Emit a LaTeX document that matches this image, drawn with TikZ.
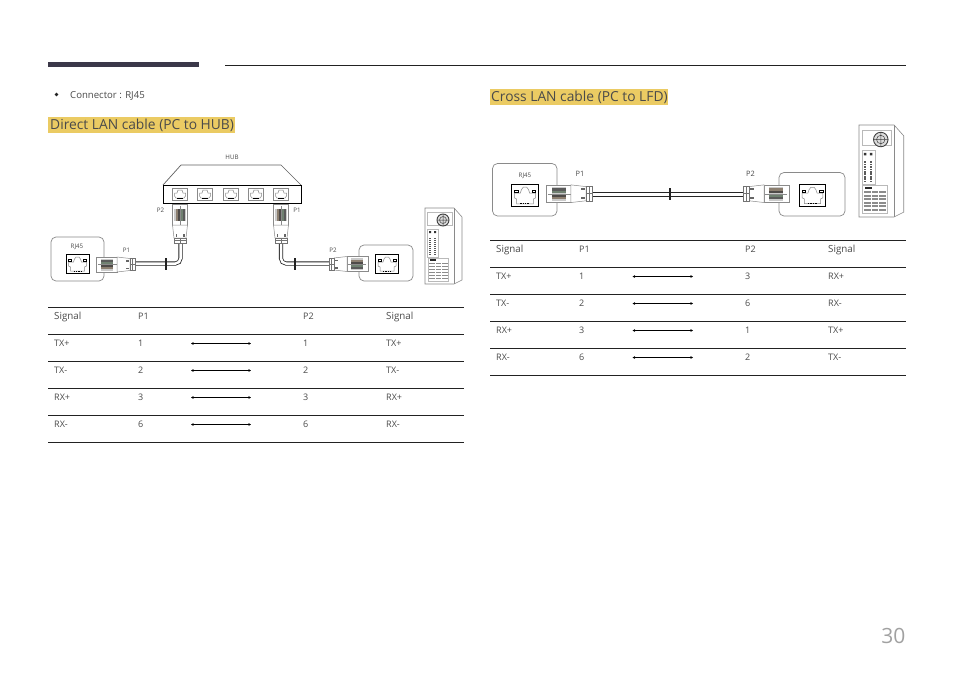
\documentclass[tikz,border=0pt]{standalone}
\usepackage{fontspec}
\setmainfont{Open Sans}
\usetikzlibrary{arrows.meta}
\definecolor{txt}{HTML}{4A4A4A}
\definecolor{hl}{HTML}{EBCB63}
\definecolor{barc}{HTML}{3B3849}
\definecolor{rulec}{HTML}{222222}
\definecolor{gy}{HTML}{8A8A8A}
\definecolor{stripea}{HTML}{5A5A5A}
\definecolor{stripeb}{HTML}{6F8070}
\definecolor{stripec}{HTML}{4E4A48}
\definecolor{striped}{HTML}{8C7F70}
\tikzset{
  celltext/.style={anchor=base west,inner sep=0pt,font=\fontsize{9}{11}\selectfont,text=txt},
  smalltext/.style={inner sep=0pt,font=\fontsize{6.2}{8}\selectfont,text=txt},
  heading/.style={anchor=base west,inner sep=0pt,font=\fontsize{13.8}{16}\selectfont,text=txt},
  hlbox/.style={fill=hl,draw=none},
  rowrule/.style={draw=rulec,line width=.9pt},
  signal/.style={draw=black,line width=.6pt,{Stealth[length=2.6pt,width=2.6pt]}-{Stealth[length=2.6pt,width=2.6pt]}},
  portbox/.style={draw=gy,line width=.7pt,rounded corners=5pt,fill=white},
  cable/.style={draw=black!85,line width=4.1pt,rounded corners=5pt},
  cablein/.style={draw=white,line width=2.5pt,rounded corners=5pt},
  tickmark/.style={draw=rulec,line width=1.5pt},
  pics/jack/.style={code={
    \draw[black,line width=1pt,fill=white] (-11.5,-9.5) rectangle (11.5,9.5);
    \draw[gy,line width=.5pt] (-9,-2) -- (-4,-2) -- (-3,-5) -- (-1.5,-7) -- (1.5,-7) -- (3,-5) -- (4,-2) -- (9,-2) -- (9,2) -- (7,3) -- (7,7) -- (-7,7) -- (-7,3) -- (-9,2) -- cycle;
    \draw[black,line width=.5pt,fill=white] (-9,-4.5) rectangle (-6,-2.5);
    \draw[black,line width=.5pt,fill=white] (6,-4.5) rectangle (9,-2.5);
    \draw[black,line width=1pt,dash pattern=on 1.4pt off 1pt] (-4,7) -- (4,7);
  }},
  pics/hubjack/.style={code={
    \draw[gy,line width=.6pt] (-7.5,-6) rectangle (7.5,6);
    \draw[gy,line width=.5pt] (-5.5,-1) -- (-3,-1) -- (-2,-4) -- (2,-4) -- (3,-1) -- (5.5,-1) -- (5.5,2) -- (4,4) -- (-4,4) -- (-5.5,2) -- cycle;
    \draw[black,line width=1pt] (-3,4.2) -- (3,4.2);
  }},
  pics/plug/.style={code={
    \draw[gy,line width=.5pt,fill=white] (-39,-7.5) rectangle (-18,7.5);
    \fill[white!55!gy] (-34,-6) rectangle (-22,6);
    \fill[stripea] (-34,-4.5) rectangle (-22,-2.5);
    \fill[stripeb] (-34,-2.5) rectangle (-22,-.5);
    \fill[stripec] (-34,.5) rectangle (-22,2.5);
    \fill[striped] (-34,2.5) rectangle (-22,4.5);
    \draw[gy,line width=.4pt] (-37,0) -- (-14,0);
    \draw[gy,line width=.5pt,fill=white] (-18,-7.5) -- (-5,-6) -- (-5,6) -- (-18,7.5) -- cycle;
    \fill[black!60] (-9,-4.5) rectangle (-6,-3);
    \fill[black!60] (-9,3) rectangle (-6,4.5);
    \draw[black!55,line width=.5pt,fill=white] (-5,-6) rectangle (0,6);
    \draw[black!55,line width=.5pt] (-2.5,-6) -- (-2.5,6) (-5,0) -- (0,0);
  }},
  pics/tower/.style={code={
    \draw[gy,line width=.6pt,fill=white] (0,0) -- (29,0) -- (37,9) -- (37,72) -- (29,76) -- (0,76) -- cycle;
    \draw[gy,line width=.5pt] (29,0) -- (29,76);
    \draw[gy!60,line width=.4pt] (2.5,4) rectangle (27,17);
    \draw[black!75,line width=.9pt,fill=gy!30] (18,12) circle (6);
    \draw[black!75,line width=.5pt] (18,12) circle (3.5) (12,12) -- (24,12) (18,6) -- (18,18);
    \draw[gy!60,line width=.4pt] (2.5,21) rectangle (13,49);
    \fill[black!80] (4,23) rectangle (6,25) (9,23) rectangle (11,25);
    \foreach \yy in {30,32,...,46} {\fill[black!65] (4,\yy) rectangle (6,\yy+1.4); \fill[black!65] (9,\yy) rectangle (11,\yy+1.4);}
    \draw[gy!60,line width=.4pt] (3,50) rectangle (23.5,73);
    \fill[black!85] (5,51) rectangle (11,53);
    \foreach \yy in {54.5,57.5,...,72} {\fill[black!45] (4,\yy) rectangle (22.5,\yy+1.6);}
    \draw[white,line width=.5pt] (10,54) -- (10,73) (16,54) -- (16,73);
  }}
}
\begin{document}
\begin{tikzpicture}[x=1pt,y=-1pt]
\useasboundingbox[fill=white] (0,0) rectangle (954,675);
% page header
\fill[barc] (48,62) rectangle (199,67);
\coordinate (headL) at (225,65); \coordinate (headR) at (906,65);
\draw[rulec,line width=.7pt] (headL) -- (headR);
\fill[rulec] (56.5,94.5) circle (1.9);
\node[celltext,font=\fontsize{9.6}{11}\selectfont] (conn) at (70,98) {Connector : RJ45};
\node[anchor=east,inner sep=0pt,font=\fontsize{21}{26}\selectfont,text=gy!80] (pagenum) at (905.5,636) {30};
% headings
\fill[hlbox] (48,116.5) rectangle (235,133);
\node[heading] (hleft) at (50,129.5) {Direct LAN cable (PC to HUB)};
\fill[hlbox] (490,88.5) rectangle (668,105);
\node[heading] (hright) at (491,101.5) {Cross LAN cable (PC to LFD)};
% tables
\foreach \tx/\px/\qx/\rx/\ax/\bx/\ty/\nm/\rows in {
  48/138/303/386/191/251/307/L/{TX+/1/1/TX+,TX-/2/2/TX-,RX+/3/3/RX+,RX-/6/6/RX-},
  490/579/745/828/632.5/693/240/R/{TX+/1/3/RX+,TX-/2/6/RX-,RX+/3/1/TX+,RX-/6/2/TX-}} {
  \pgfmathsetmacro{\xend}{\tx+416}
  \pgfmathsetmacro{\xs}{\tx+6}
  \draw[rowrule] (\tx,\ty) -- (\xend,\ty);
  \node[celltext,font=\fontsize{9.8}{11}\selectfont] (\nm-h1) at (\xs,\ty+12.5) {Signal};
  \node[celltext] (\nm-h2) at (\px,\ty+12.5) {P1};
  \node[celltext] (\nm-h3) at (\qx,\ty+12.5) {P2};
  \node[celltext,font=\fontsize{9.8}{11}\selectfont] (\nm-h4) at (\rx,\ty+12.5) {Signal};
  \foreach \a/\b/\c/\d [count=\i] in \rows {
    \pgfmathsetmacro{\yy}{\ty+27*\i}
    \draw[rowrule] (\tx,\yy) -- (\xend,\yy);
    \node[celltext] (\nm-\i-a) at (\xs,\yy+12.5) {\a};
    \node[celltext] (\nm-\i-b) at (\px,\yy+12.5) {\b};
    \node[celltext] (\nm-\i-c) at (\qx,\yy+12.5) {\c};
    \node[celltext] (\nm-\i-d) at (\rx,\yy+12.5) {\d};
    \coordinate (\nm-\i-s) at (\ax,\yy+9.5);
    \coordinate (\nm-\i-e) at (\bx,\yy+9.5);
    \draw[signal] (\nm-\i-s) -- (\nm-\i-e);
    \draw[rowrule] (\tx,\yy+27) -- (\xend,\yy+27);
  }
}
% ===== left diagram =====
\draw[gy!70!black,line width=.7pt] (163,185) -- (181,165) -- (281,165) -- (301,185);
\draw[black,line width=1pt,fill=white] (163,185) rectangle (301,203);
\foreach \cx in {180,205,231,256,281} \pic at (\cx,194) {hubjack};
\node[smalltext] (hub) at (232,157.5) {HUB};
\draw[portbox] (51,237) rectangle (104,281);
\node[smalltext] (rjl) at (77,247) {RJ45};
\pic at (77.5,264) {jack};
\draw[portbox] (359,245) rectangle (413,281);
\pic at (387,264) {jack};
\pic at (425,208) {tower};
% cables, left
\coordinate (c1a) at (135,263.5);
\coordinate (c1b) at (180.5,263.5);
\coordinate (c1c) at (180.5,243);
\draw[cable] (c1a) -- (c1b) -- (c1c);
\draw[cablein] (c1a) -- (c1b) -- (c1c);
\coordinate (t1a) at (166,258); \coordinate (t1b) at (166,270);
\draw[tickmark] (t1a) -- (t1b);
\pic at (135,264.5) {plug};
\pic[rotate=-90] at (180,243) {plug};
\node[smalltext] (p1l) at (126.5,250) {P1};
\node[smalltext] (p2l) at (160.5,210) {P2};
% cables, right
\coordinate (c2a) at (281,243);
\coordinate (c2b) at (281,263.5);
\coordinate (c2c) at (329,263.5);
\draw[cable] (c2a) -- (c2b) -- (c2c);
\draw[cablein] (c2a) -- (c2b) -- (c2c);
\coordinate (t2a) at (295,258); \coordinate (t2b) at (295,270);
\draw[tickmark] (t2a) -- (t2b);
\pic[rotate=-90] at (281,243) {plug};
\pic[rotate=180] at (329,264) {plug};
\node[smalltext] (p1r) at (297,210.5) {P1};
\node[smalltext] (p2r) at (333,250.5) {P2};
% ===== right diagram =====
\draw[portbox] (492.5,163.5) rectangle (557,216);
\node[smalltext] (rjr) at (525,175.5) {RJ45};
\pic[scale=1.18] at (525,195.5) {jack};
\draw[portbox] (779,172.5) rectangle (845,216);
\pic[scale=1.15] at (812.5,195.5) {jack};
\pic[scale=1.21] at (859,125) {tower};
\coordinate (c3a) at (591,194.3);
\coordinate (c3b) at (744,194.3);
\draw[cable,line width=5.2pt] (c3a) -- (c3b);
\draw[cablein,line width=3pt] (c3a) -- (c3b);
\coordinate (t3a) at (670,188); \coordinate (t3b) at (670,200);
\draw[tickmark] (t3a) -- (t3b);
\pic[scale=1.18] at (592,193.7) {plug};
\pic[rotate=180,scale=1.18] at (743,193.7) {plug};
\node[smalltext,font=\fontsize{7.4}{9}\selectfont] (p1c) at (580,174) {P1};
\node[smalltext,font=\fontsize{7.4}{9}\selectfont] (p2c) at (750.5,174) {P2};
\end{tikzpicture}
\end{document}
